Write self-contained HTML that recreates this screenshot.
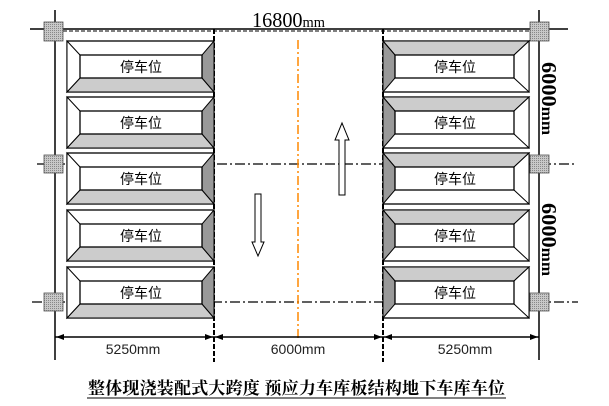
<!DOCTYPE html>
<html><head><meta charset="utf-8"><style>
html,body{margin:0;padding:0;background:#fff;width:609px;height:406px;overflow:hidden}
svg text{font-family:"Liberation Sans","Noto Sans CJK SC",sans-serif}
</style></head><body>
<svg width="609" height="406" viewBox="0 0 609 406" xmlns="http://www.w3.org/2000/svg">
<defs>
<pattern id="hp" width="2" height="2" patternUnits="userSpaceOnUse"><rect width="2" height="2" fill="#c8c8c8"/><rect width="1" height="1" fill="#888"/></pattern>
<g id="L">
<rect x="0" y="0" width="147" height="51" fill="#fff" stroke="#000" stroke-width="1.3"/>
<polygon points="0,51 13,37 135,37 147,51" fill="#ccc" stroke="#000" stroke-width="1"/>
<polygon points="147,0 135,14 135,37 147,51" fill="#999" stroke="#000" stroke-width="1"/>
<polygon points="0,0 13,14 13,37 0,51" fill="#fff" stroke="#000" stroke-width="1"/>
<rect x="13" y="14" width="122" height="23" fill="#fff" stroke="#000" stroke-width="1.3"/>
<text x="74" y="31" font-size="14" text-anchor="middle">停车位</text>
</g>
<g id="R">
<rect x="0" y="0" width="146" height="51" fill="#fff" stroke="#000" stroke-width="1.3"/>
<polygon points="0,0 12,14 131,14 146,0" fill="#ccc" stroke="#000" stroke-width="1"/>
<polygon points="0,0 12,14 12,37 0,51" fill="#999" stroke="#000" stroke-width="1"/>
<polygon points="146,0 131,14 131,37 146,51" fill="#fff" stroke="#000" stroke-width="1"/>
<rect x="12" y="14" width="119" height="23" fill="#fff" stroke="#000" stroke-width="1.3"/>
<text x="72" y="31" font-size="14" text-anchor="middle">停车位</text>
</g>
</defs>
<line x1="30" y1="29" x2="568" y2="29" stroke="#000" stroke-width="1.5"/>
<line x1="63" y1="31" x2="530" y2="31" stroke="#000" stroke-width="1" stroke-dasharray="4,2"/>
<line x1="55" y1="10" x2="55" y2="360" stroke="#000" stroke-width="1.5"/>
<line x1="539" y1="10" x2="539" y2="360" stroke="#000" stroke-width="1.5"/>
<line x1="37" y1="164" x2="575" y2="164" stroke="#000" stroke-width="1.2" stroke-dasharray="10,3,2,3"/>
<line x1="32" y1="302" x2="578" y2="302" stroke="#000" stroke-width="1.2" stroke-dasharray="10,3,2,3"/>
<line x1="214" y1="29" x2="214" y2="362" stroke="#000" stroke-width="2" stroke-dasharray="5,2"/>
<line x1="383" y1="29" x2="383" y2="362" stroke="#000" stroke-width="2" stroke-dasharray="5,2"/>
<line x1="298" y1="40" x2="298" y2="338" stroke="#f80" stroke-width="1.5" stroke-dasharray="9,3,2,3"/>
<g fill="url(#hp)" stroke="#555" stroke-width="0.8">
<rect x="44" y="22" width="19" height="19"/><rect x="44" y="155" width="19" height="18"/><rect x="44" y="293" width="19" height="18"/>
<rect x="530" y="22" width="19" height="19"/><rect x="530" y="155" width="19" height="18"/><rect x="530" y="293" width="19" height="18"/>
</g>
<use href="#L" x="67" y="41"/><use href="#L" x="67" y="97"/><use href="#L" x="67" y="153"/><use href="#L" x="67" y="210"/><use href="#L" x="67" y="267"/>
<use href="#R" x="383" y="41"/><use href="#R" x="383" y="97"/><use href="#R" x="383" y="153"/><use href="#R" x="383" y="210"/><use href="#R" x="383" y="267"/>
<polygon points="342,123 349,140 345,140 345,195 339,195 339,140 335,140" fill="#fff" stroke="#000" stroke-width="1"/>
<polygon points="255,194 261,194 261,242 264,242 258,256 252,242 255,242" fill="#fff" stroke="#000" stroke-width="1"/>
<line x1="55" y1="337" x2="539" y2="337" stroke="#000" stroke-width="1.5"/>
<g fill="#000">
<polygon points="56,337 64,334 64,340"/><polygon points="213,337 205,334 205,340"/>
<polygon points="215,337 223,334 223,340"/><polygon points="382,337 374,334 374,340"/>
<polygon points="384,337 392,334 392,340"/><polygon points="538,337 530,334 530,340"/>
</g>
<text x="133" y="354" font-size="14" text-anchor="middle" fill="#222">5250mm</text>
<text x="298" y="354" font-size="14" text-anchor="middle" fill="#222">6000mm</text>
<text x="465" y="354" font-size="14" text-anchor="middle" fill="#222">5250mm</text>
<text x="252" y="27" font-size="21" textLength="73" lengthAdjust="spacingAndGlyphs" style="font-family:'Liberation Serif',serif">16800<tspan font-size="15">mm</tspan></text>
<text transform="translate(542,62) rotate(90)" font-size="21" font-weight="bold" textLength="73" lengthAdjust="spacingAndGlyphs" style="font-family:'Liberation Serif',serif">6000<tspan font-size="16">mm</tspan></text>
<text transform="translate(542,203) rotate(90)" font-size="21" font-weight="bold" textLength="73" lengthAdjust="spacingAndGlyphs" style="font-family:'Liberation Serif',serif">6000<tspan font-size="16">mm</tspan></text>
<text x="88" y="394" font-size="17" font-weight="bold" textLength="417" lengthAdjust="spacing" style="font-family:'Liberation Serif','Noto Serif CJK SC',serif">整体现浇装配式大跨度 预应力车库板结构地下车库车位</text>
<line x1="87" y1="398" x2="506" y2="398" stroke="#000" stroke-width="1"/>
</svg>
</body></html>
